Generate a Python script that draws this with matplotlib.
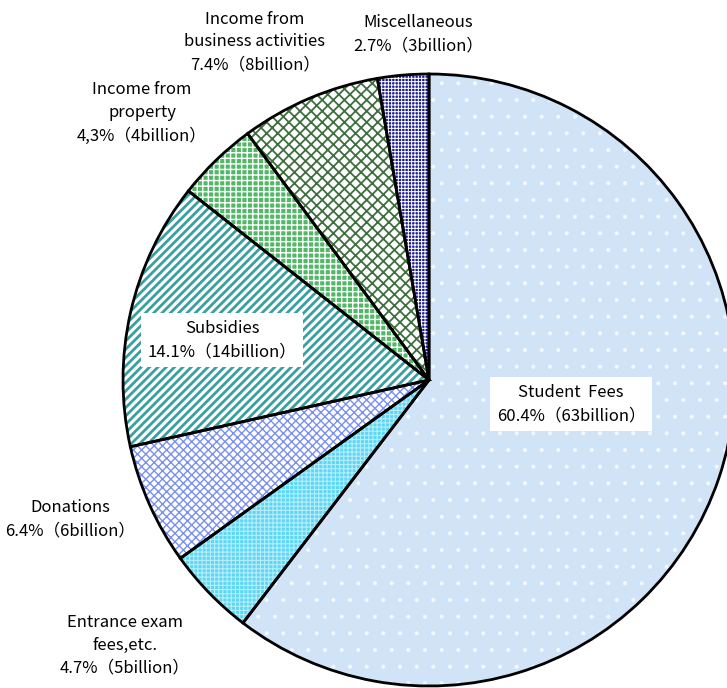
import matplotlib.pyplot as plt

plt.rcParams['font.family'] = ['Noto Sans CJK JP', 'DejaVu Sans']
plt.rcParams['hatch.linewidth'] = 1.0

# 収入の内訳 (%)
labels = ["Student  Fees", "Entrance exam\nfees,etc.", "Donations", "Subsidies",
          "Income from\nproperty", "Income from\nbusiness activities", "Miscellaneous"]
shares = [60.4, 4.7, 6.4, 14.1, 4.3, 7.4, 2.7]
share_text = ["60.4%", "4.7%", "6.4%", "14.1%", "4,3%", "7.4%", "2.7%"]
billions = [63, 5, 6, 14, 4, 8, 3]

faces = ['#d0e3f7', '#5fd6f4', '#ffffff', '#ffffff', '#52b867', '#ffffff', '#1c1c92']
hatch_cols = ['#f4f9fe', '#b5eefb', '#7a90f0', '#3a9f9f', '#ffffff', '#3f6f3f', '#ffffff']
hatches = ['.', '++++', 'xxxx', '////', '+++', 'xxx', '+++++']
hatch_lw = [0.5, 0.8, 1.0, 2.0, 1.0, 1.3, 0.7]

W, H = 727, 688
fig = plt.figure(figsize=(W / 100, H / 100), dpi=100)
ax = fig.add_axes([0, 0, 1, 1])

cx, cy, r = 429, H - 380, 306

# 模様だけ先に描いて、後から黒い枠線を重ねる
wedges, _ = ax.pie(shares, center=(cx, cy), radius=r, startangle=90, counterclock=False,
                   colors=faces, wedgeprops=dict(linewidth=0))
for w, h, hc, lw in zip(wedges, hatches, hatch_cols, hatch_lw):
    w.set_hatch(h)
    w.set_edgecolor(hc)
    if hasattr(w, 'set_hatch_linewidth'):
        w.set_hatch_linewidth(lw)
ax.pie(shares, center=(cx, cy), radius=r, startangle=90, counterclock=False,
       wedgeprops=dict(fill=False, edgecolor='black', linewidth=2))

# ラベル位置 (ピクセル)
pos = [(571, 404), (125, 645), (70, 519), (222, 340), (142, 113), (255, 42), (418, 34)]
boxed = [True, False, False, True, False, False, False]
for lab, s, b, (x, y), bx in zip(labels, share_text, billions, pos, boxed):
    txt = f"{lab}\n{s}（{b}billion）"
    kw = {}
    if bx:
        kw['bbox'] = dict(facecolor='white', edgecolor='none', pad=5)
    ax.text(x, H - y, txt, ha='center', va='center', fontsize=12,
            linespacing=1.45, **kw)

ax.set_xlim(0, W)
ax.set_ylim(0, H)
ax.set_aspect('equal')
ax.axis('off')

fig.savefig('out.png', dpi=100, facecolor='white')
